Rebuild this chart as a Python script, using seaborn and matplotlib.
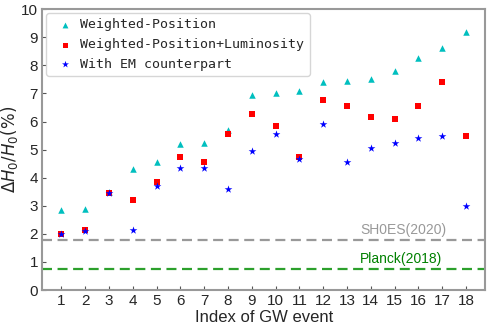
import numpy as np
import pandas as pd
import matplotlib
matplotlib.use("Agg")
import matplotlib.pyplot as plt
import seaborn as sns

# values
gw_index = list(range(1, 19))
weighted_pos = [2.85, 2.9, 3.5, 4.32, 4.55, 5.2, 5.25, 5.7, 6.95, 7.0,
                7.1, 7.4, 7.45, 7.5, 7.8, 8.25, 8.6, 9.2]
weighted_lum = [2.0, 2.15, 3.45, 3.2, 3.85, 4.75, 4.55, 5.55, 6.25, 5.85,
                4.75, 6.75, 6.55, 6.15, 6.1, 6.55, 7.4, 5.5]
with_em = [2.0, 2.1, 3.45, 2.15, 3.7, 4.35, 4.35, 3.6, 4.95, 5.55,
           4.65, 5.9, 4.55, 5.05, 5.25, 5.4, 5.5, 3.0]
shoes_2020 = 1.78
planck_2018 = 0.75

sns.set_style("ticks")
plt.rcParams['font.family'] = ['Liberation Sans', 'DejaVu Sans']

fig, ax = plt.subplots(figsize=(4.91, 3.27), dpi=100)

# one call per method so each marker gets its own size
sns.scatterplot(x=gw_index, y=weighted_pos, marker="^", color="c", s=22,
                linewidth=0, label="Weighted-Position", ax=ax)
sns.scatterplot(x=gw_index, y=weighted_lum, marker="s", color="r", s=16,
                linewidth=0, label="Weighted-Position+Luminosity", ax=ax)
sns.scatterplot(x=gw_index, y=with_em, marker="*", color="b", s=34,
                linewidth=0, label="With EM counterpart", ax=ax)

ax.axhline(shoes_2020, color="#999999", ls="--", lw=1.6, dashes=(4.5, 2.5))
ax.axhline(planck_2018, color="#2ca02c", ls="--", lw=1.6, dashes=(4.5, 2.5))
ax.text(13.55, shoes_2020 + 0.1, "SH0ES(2020)", color="#999999",
        ha="left", va="bottom", fontsize=10)
ax.text(13.55, planck_2018 + 0.1, "Planck(2018)", color="green",
        ha="left", va="bottom", fontsize=10)

ax.set_xlim(0.2, 18.8)
ax.set_ylim(0, 10)
ax.set_xticks(gw_index)
ax.set_yticks(range(0, 11))
ax.tick_params(direction="in", labelsize=11, length=3, color="#555555", pad=3)
for sp in ax.spines.values():
    sp.set_color("#999999")
    sp.set_linewidth(1.5)

ax.set_xlabel("Index of GW event", fontsize=12, labelpad=1)
ax.set_ylabel(r"$\Delta H_0/H_0(\%)$", fontsize=12, labelpad=1)

leg = ax.legend(loc="upper left", prop={"family": "DejaVu Sans Mono", "size": 9.5},
                handletextpad=0.2, markerscale=0.9, borderaxespad=0.3)

fig.subplots_adjust(left=0.086, right=0.988, top=0.972, bottom=0.113)
fig.savefig("out.png", dpi=100)
